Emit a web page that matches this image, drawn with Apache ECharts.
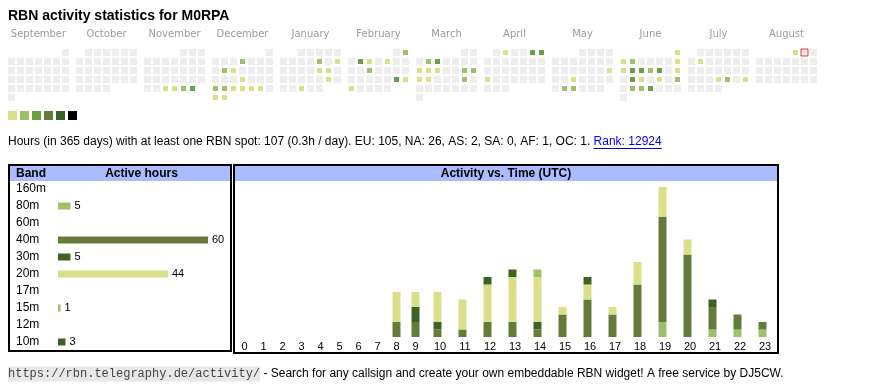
<!DOCTYPE html>
<html><head><meta charset="utf-8">
<script src="https://cdn.jsdelivr.net/npm/echarts@6/dist/echarts.min.js"></script>
<style>html,body{margin:0;padding:0;background:#fff}#c{width:870px;height:390px}</style>
</head><body><div id="c"></div>
<script>
// ---------- data ----------
const titleText = 'RBN activity statistics for M0RPA';
const months = ['2024-09','2024-10','2024-11','2024-12','2025-01','2025-02','2025-03','2025-04','2025-05','2025-06','2025-07','2025-08'];
const monthNames = ['September','October','November','December','January','February','March','April','May','June','July','August'];
const lastDay = '2025-08-24';
const todayDate = '2025-08-02';
const levelColors = ['#d9e089','#9dc06a','#68a046','#667a3a','#3a6324','#000000'];
const dayLevels = [
  ['2024-11-27',1],['2024-11-28',1],['2024-11-29',2],['2024-11-30',3],
  ['2024-12-05',2],['2024-12-10',2],['2024-12-11',1],['2024-12-19',1],['2024-12-23',2],['2024-12-24',2],
  ['2024-12-25',1],['2024-12-26',1],['2024-12-27',1],['2024-12-28',1],['2024-12-30',1],['2024-12-31',1],
  ['2025-01-10',2],['2025-01-12',1],['2025-01-17',1],['2025-01-18',1],['2025-01-25',1],['2025-01-29',1],
  ['2025-02-02',2],['2025-02-04',3],['2025-02-05',1],['2025-02-07',1],['2025-02-12',2],['2025-02-22',3],['2025-02-23',1],['2025-02-24',1],
  ['2025-03-04',2],['2025-03-05',3],['2025-03-10',1],['2025-03-11',1],['2025-03-12',1],['2025-03-15',2],['2025-03-16',2],
  ['2025-03-17',1],['2025-03-18',1],['2025-03-22',2],
  ['2025-04-02',1],['2025-04-05',3],['2025-04-06',3],['2025-04-21',1],
  ['2025-05-18',1],['2025-05-21',1],['2025-05-27',2],['2025-05-28',2],
  ['2025-06-01',1],['2025-06-02',1],['2025-06-03',2],['2025-06-08',1],['2025-06-09',1],['2025-06-10',3],['2025-06-11',3],
  ['2025-06-12',2],['2025-06-13',3],['2025-06-15',1],['2025-06-17',3],['2025-06-18',1],['2025-06-20',1],['2025-06-22',2],
  ['2025-06-24',2],['2025-06-25',2],['2025-06-26',3],
  ['2025-07-08',1],['2025-07-24',1],['2025-07-25',2],['2025-07-27',1],
  ['2025-08-01',1]
];
const summaryText = 'Hours (in 365 days) with at least one RBN spot: 107 (0.3h / day). EU: 105, NA: 26, AS: 2, SA: 0, AF: 1, OC: 1. ';
const rankText = 'Rank: 12924';
const urlText = 'https://rbn.telegraphy.de/activity/';
const footerText = ' - Search for any callsign and create your own embeddable RBN widget! A free service by DJ5CW.';

const bands = ['160m','80m','60m','40m','30m','20m','17m','15m','12m','10m'];
const bandHours = [0,5,0,60,5,44,0,1,0,3];
const bandColors = ['#000000','#9dc06a','#68a046','#667a3a','#3a6324','#d9e089','#68a046','#9dc06a','#667a3a','#3a6324'];

const hours = ['0','1','2','3','4','5','6','7','8','9','10','11','12','13','14','15','16','17','18','19','20','21','22','23'];
const hourly80m = [0,0,0,0,0,0,0,0,0,0,0,0,0,0,0,0,0,0,0,2,0,1,1,1];
const hourly40m = [0,0,0,0,0,0,0,0,2,2,1,1,2,2,1,3,5,3,7,14,11,3,2,1];
const hourly30m = [0,0,0,0,0,0,0,0,0,2,1,0,0,0,1,0,0,0,0,0,0,1,0,0];
const hourly20m = [0,0,0,0,0,0,0,0,4,2,4,4,5,6,6,1,2,1,3,4,2,0,0,0];
const hourly15m = [0,0,0,0,0,0,0,0,0,0,0,0,0,0,1,0,0,0,0,0,0,0,0,0];
const hourly10m = [0,0,0,0,0,0,0,0,0,0,0,0,1,1,0,0,1,0,0,0,0,0,0,0];
const hourlySeries = [
  ['80m', hourly80m], ['40m', hourly40m], ['30m', hourly30m],
  ['20m', hourly20m], ['15m', hourly15m], ['10m', hourly10m]
];

// ---------- layout helpers ----------
const SANS = '"Liberation Sans", Arial, sans-serif';
const ctx = document.createElement('canvas').getContext('2d');
function tw(t, font) { ctx.font = font; return ctx.measureText(t).width; }
const bandColorOf = name => bandColors[bands.indexOf(name)];

const calendars = months.map((m, i) => ({
  orient: 'vertical',
  left: 7 + 68 * i, top: 48,
  cellSize: [9, 9],
  range: i === 11 ? ['2025-08-01', lastDay] : m,
  itemStyle: { color: '#eeeeee', borderColor: '#ffffff', borderWidth: 2 },
  splitLine: { show: false },
  dayLabel: { show: false, firstDay: 1 }, monthLabel: { show: false }, yearLabel: { show: false }
}));

const series = [];
months.forEach((m, i) => {
  series.push({
    type: 'heatmap', coordinateSystem: 'calendar', calendarIndex: i,
    data: dayLevels.filter(d => d[0].slice(0, 7) === m),
    itemStyle: { borderColor: '#ffffff', borderWidth: 2 },
    emphasis: { disabled: true }, silent: true
  });
});
series.push({
  type: 'scatter', coordinateSystem: 'calendar', calendarIndex: 11,
  data: [[todayDate, 0]], symbol: 'rect', symbolSize: 7,
  itemStyle: { color: '#eeeeee', borderColor: '#ff0000', borderWidth: 1 },
  silent: true, z: 5
});
// band bars
series.push({
  type: 'bar', xAxisIndex: 0, yAxisIndex: 0, barWidth: 7,
  data: bandHours.map(v => v > 0 ? v : '-'),
  itemStyle: { color: p => bandColors[p.dataIndex] },
  label: { show: true, position: 'right', distance: 4, color: '#000', fontSize: 11, fontFamily: SANS },
  silent: true
});
// hourly stacked bars, two grids (narrow one-digit columns, wider two-digit columns)
hourlySeries.forEach(([name, arr]) => {
  series.push({
    type: 'bar', name, stack: 'a', xAxisIndex: 1, yAxisIndex: 1, barWidth: 8,
    data: arr.slice(0, 10), itemStyle: { color: bandColorOf(name) }, silent: true
  });
  series.push({
    type: 'bar', name, stack: 'b', xAxisIndex: 2, yAxisIndex: 2, barWidth: 8,
    data: arr.slice(10), itemStyle: { color: bandColorOf(name) }, silent: true
  });
});

const hourLabel = { color: '#000', fontSize: 11, fontFamily: SANS, margin: 4 };
const hiddenLine = { show: false };

// graphics
const graphics = [];
graphics.push({ type: 'text', x: 8, y: 16, style: { text: titleText, font: 'bold 14px ' + SANS, fill: '#000', verticalAlign: 'middle' } });
monthNames.forEach((n, i) => {
  graphics.push({ type: 'text', x: 38.5 + 68 * i, y: 34, style: { text: n, font: '10px "DejaVu Sans"', fill: '#9a9a9a', align: 'center', verticalAlign: 'middle' } });
});
const sumFont = '12px ' + SANS;
const sumW = tw(summaryText, sumFont);
const rankW = tw(rankText, sumFont);
graphics.push({ type: 'text', x: 8, y: 142, style: { text: summaryText, font: sumFont, fill: '#000', verticalAlign: 'middle' } });
graphics.push({ type: 'text', x: 8 + sumW, y: 142, style: { text: rankText, font: sumFont, fill: '#0000ee', verticalAlign: 'middle' } });
graphics.push({ type: 'line', shape: { x1: 8 + sumW, y1: 148.5, x2: 8 + sumW + rankW, y2: 148.5 }, style: { stroke: '#0000ee', lineWidth: 1 } });
// band table
graphics.push({ type: 'rect', shape: { x: 10, y: 166, width: 220, height: 15 }, style: { fill: '#aabbff' } });
graphics.push({ type: 'rect', shape: { x: 9, y: 165, width: 222, height: 186 }, style: { fill: null, stroke: '#000', lineWidth: 2 } });
graphics.push({ type: 'text', x: 16, y: 173.5, style: { text: 'Band', font: 'bold 12px ' + SANS, fill: '#000', verticalAlign: 'middle' } });
graphics.push({ type: 'text', x: 141.5, y: 173.5, style: { text: 'Active hours', font: 'bold 12px ' + SANS, fill: '#000', align: 'center', verticalAlign: 'middle' } });
// activity table
graphics.push({ type: 'rect', shape: { x: 235, y: 166, width: 542, height: 15 }, style: { fill: '#aabbff' } });
graphics.push({ type: 'rect', shape: { x: 234, y: 165, width: 544, height: 188 }, style: { fill: null, stroke: '#000', lineWidth: 2 } });
graphics.push({ type: 'text', x: 506, y: 173.5, style: { text: 'Activity vs. Time (UTC)', font: 'bold 12px ' + SANS, fill: '#000', align: 'center', verticalAlign: 'middle' } });
// footer
const monoFont = '12px "Liberation Mono", monospace';
const urlW = tw(urlText, monoFont);
graphics.push({ type: 'text', x: 8, y: 374, style: { text: urlText, font: monoFont, fill: '#444', verticalAlign: 'middle', backgroundColor: '#e8e8e8', padding: [2, 0, 1, 0] } });
graphics.push({ type: 'text', x: 8 + urlW, y: 374, style: { text: footerText, font: sumFont, fill: '#000', verticalAlign: 'middle' } });

const option = {
  backgroundColor: '#ffffff',
  animation: false,
  calendar: calendars,
  visualMap: {
    type: 'piecewise', seriesIndex: months.map((m, i) => i),
    pieces: levelColors.map((c, i) => ({ value: i + 1, color: c })),
    orient: 'horizontal', left: 8, top: 111, padding: 0,
    itemWidth: 9, itemHeight: 9, itemGap: 3, itemSymbol: 'rect',
    showLabel: false, selectedMode: false, hoverLink: false
  },
  grid: [
    { left: 58, top: 180.5, width: 170, height: 170 },
    { left: 235, top: 187, width: 190, height: 150 },
    { left: 425, top: 187, width: 350, height: 150 }
  ],
  xAxis: [
    { type: 'value', gridIndex: 0, min: 0, max: 68, show: false },
    { type: 'category', gridIndex: 1, data: hours.slice(0, 10), axisLine: hiddenLine, axisTick: hiddenLine, axisLabel: hourLabel },
    { type: 'category', gridIndex: 2, data: hours.slice(10), axisLine: hiddenLine, axisTick: hiddenLine, axisLabel: Object.assign({ padding: [0, 0, 0, 5] }, hourLabel) }
  ],
  yAxis: [
    { type: 'category', gridIndex: 0, data: bands, inverse: true, axisLine: hiddenLine, axisTick: hiddenLine,
      axisLabel: { align: 'left', margin: 42, color: '#000', fontSize: 12, fontFamily: SANS } },
    { type: 'value', gridIndex: 1, min: 0, max: 20, show: false },
    { type: 'value', gridIndex: 2, min: 0, max: 20, show: false }
  ],
  graphic: graphics,
  series
};
const chart = echarts.init(document.getElementById('c'), null, { renderer: 'canvas' });
chart.setOption(option);
</script></body></html>
